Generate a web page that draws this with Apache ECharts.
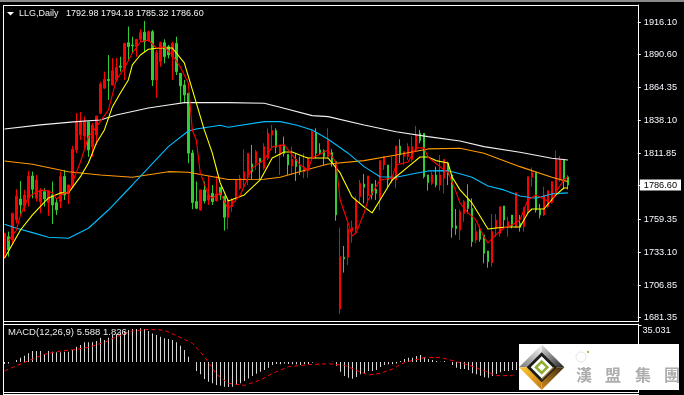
<!DOCTYPE html>
<html><head><meta charset="utf-8">
<style>html,body{margin:0;padding:0;background:#000}#c{width:684px;height:395px}</style>
<script src="https://cdn.jsdelivr.net/npm/echarts@6/dist/echarts.min.js"></script></head>
<body><div id="c"></div>
<script>
// [open, close, low, high]
const ohlc = [
[1732.3,1748.2,1728.3,1748.2],[1745.5,1734.9,1729.6,1749.5],[1742.9,1764.1,1738.9,1764.1],[1758.8,1777.9,1756.1,1783.2],
[1775.5,1770.7,1762.8,1789.8],[1769.9,1778.7,1765.4,1782.7],[1776.0,1793.8,1769.4,1797.8],[1793.8,1783.2,1776.0,1797.3],
[1776.0,1790.6,1773.4,1794.6],[1773.4,1782.7,1764.1,1784.0],[1781.3,1775.5,1769.4,1784.0],[1772.6,1782.1,1762.0,1782.1],
[1778.7,1770.7,1755.6,1789.3],[1772.6,1766.8,1762.8,1776.0],[1773.4,1793.3,1768.1,1797.3],[1793.3,1778.7,1774.7,1798.6],
[1780.0,1786.6,1771.5,1786.6],[1786.6,1815.0,1784.0,1817.7],[1814.5,1836.8,1812.0,1843.9],[1826.4,1836.8,1822.4,1844.7],
[1825.6,1836.8,1816.0,1841.0],[1836.8,1814.5,1809.0,1836.8],[1817.1,1834.4,1809.0,1836.0],[1826.4,1841.5,1818.5,1841.5],
[1843.7,1867.0,1843.0,1868.8],[1863.6,1870.7,1863.0,1876.8],[1870.7,1869.6,1854.2,1890.0],[1866.2,1877.6,1866.0,1887.4],
[1870.2,1880.0,1868.6,1887.7],[1881.3,1880.3,1876.8,1888.7],[1879.5,1899.3,1870.2,1899.3],[1899.8,1896.7,1886.1,1912.6],
[1898.0,1897.2,1891.4,1904.6],[1896.7,1902.5,1888.7,1902.5],[1902.5,1907.8,1900.6,1910.5],[1908.1,1900.6,1892.7,1917.1],
[1901.4,1908.6,1900.6,1909.4],[1908.6,1870.2,1865.4,1910.0],[1870.2,1891.9,1856.1,1894.0],[1884.7,1899.8,1880.7,1900.6],
[1899.8,1888.7,1883.4,1902.5],[1896.7,1890.1,1887.4,1898.0],[1888.7,1899.3,1870.2,1900.6],[1899.3,1876.8,1874.1,1904.6],
[1875.5,1865.4,1852.1,1875.5],[1866.2,1858.2,1851.6,1870.2],[1859.6,1811.9,1803.9,1859.8],[1812.1,1772.6,1767.3,1814.5],
[1773.4,1768.1,1767.3,1789.3],[1766.8,1782.7,1766.2,1782.7],[1782.7,1773.9,1772.0,1789.3],[1774.7,1778.7,1770.7,1793.8],
[1780.0,1773.4,1770.7,1786.6],[1774.2,1779.5,1773.4,1793.8],[1784.8,1778.7,1774.7,1784.8],[1777.4,1760.9,1750.3,1778.2],
[1760.9,1774.7,1751.4,1774.7],[1769.4,1775.2,1765.4,1776.0],[1777.4,1790.6,1773.4,1790.6],[1784.0,1791.9,1782.7,1794.6],
[1790.6,1797.2,1784.0,1815.0],[1794.6,1811.8,1786.6,1811.8],[1803.3,1797.2,1791.1,1818.5],[1803.9,1813.1,1798.6,1814.5],
[1807.8,1805.2,1790.6,1807.8],[1799.9,1817.1,1798.6,1819.8],[1807.8,1827.7,1806.5,1831.7],[1826.4,1829.9,1815.8,1834.4],
[1829.9,1816.6,1811.8,1831.7],[1810.5,1818.5,1794.6,1818.5],[1818.5,1811.8,1809.2,1825.1],[1811.0,1802.5,1794.6,1811.0],
[1801.7,1807.0,1794.6,1817.1],[1807.0,1801.2,1789.8,1811.8],[1801.2,1797.2,1794.6,1809.2],[1797.2,1799.9,1791.9,1811.8],
[1798.0,1807.8,1792.5,1807.8],[1807.8,1829.0,1806.5,1830.4],[1828.5,1811.8,1807.8,1831.7],[1814.5,1812.4,1810.5,1819.8],
[1813.9,1809.2,1802.5,1815.0],[1809.2,1823.0,1807.8,1831.7],[1812.4,1803.9,1801.2,1815.0],[1805.2,1762.8,1758.2,1805.2],
[1688.0,1729.6,1684.0,1752.7],[1729.1,1727.8,1716.9,1738.1],[1729.1,1751.6,1723.0,1756.1],[1750.0,1752.7,1740.8,1758.3],
[1751.6,1774.7,1748.2,1777.4],[1777.4,1787.9,1772.0,1790.6],[1787.4,1784.8,1772.0,1795.4],[1777.9,1793.8,1772.0,1793.8],
[1787.4,1778.7,1775.2,1787.4],[1783.2,1780.0,1774.7,1790.6],[1776.0,1806.0,1766.7,1806.0],[1802.5,1809.2,1798.6,1809.2],
[1802.5,1790.6,1784.0,1802.5],[1790.1,1793.3,1788.0,1809.2],[1790.6,1817.6,1784.0,1817.6],[1817.6,1810.5,1803.9,1823.0],
[1809.2,1813.1,1802.5,1813.1],[1809.2,1817.1,1806.5,1819.8],[1807.0,1817.1,1805.2,1825.1],[1814.5,1826.4,1813.1,1833.6],
[1827.7,1821.9,1819.8,1830.4],[1827.7,1793.3,1791.9,1827.7],[1794.6,1788.5,1782.1,1794.6],[1788.0,1794.6,1786.6,1797.2],
[1794.6,1786.6,1784.8,1801.2],[1786.6,1794.6,1782.1,1810.5],[1791.9,1807.0,1780.0,1807.0],[1803.9,1794.6,1786.6,1805.2],
[1794.6,1752.7,1744.7,1794.6],[1754.0,1751.9,1746.9,1767.5],[1750.8,1765.4,1742.8,1767.2],[1764.0,1773.3,1757.4,1774.6],
[1774.6,1768.0,1764.0,1787.1],[1768.0,1741.5,1737.5,1776.0],[1742.8,1749.5,1740.2,1756.1],[1750.8,1743.4,1741.5,1754.0],
[1746.8,1732.2,1724.3,1746.8],[1734.1,1725.6,1720.8,1734.1],[1724.8,1749.5,1721.6,1763.5],[1752.1,1758.7,1745.5,1763.5],
[1748.1,1769.3,1745.5,1769.3],[1769.9,1758.7,1752.1,1769.9],[1753.4,1757.4,1745.5,1761.4],[1762.7,1754.0,1752.1,1762.7],
[1753.4,1780.5,1752.1,1780.5],[1756.1,1752.9,1749.5,1762.7],[1753.4,1768.8,1749.5,1768.8],[1765.4,1793.2,1764.0,1793.2],
[1792.7,1796.4,1785.3,1800.6],[1796.4,1766.7,1764.6,1796.4],[1767.2,1762.7,1760.1,1771.5],[1762.7,1778.6,1761.9,1785.3],
[1769.3,1782.1,1768.0,1782.1],[1774.6,1789.2,1772.0,1789.2],[1780.5,1807.0,1778.6,1813.9],[1790.6,1807.0,1789.2,1809.7],
[1807.0,1791.9,1783.9,1807.0],[1792.98,1786.6,1783.0,1794.18]];

const maWhite = [[0,1831.2],[9,1834.4],[18,1837],[24,1838.3],[28,1842.3],[36,1847.9],[41,1850.3],[45,1852.1],[56,1852.1],[65,1851.6],[69,1848.4],[77,1841.8],[81,1841],[90,1834.4],[98,1829],[106,1825.1],[114,1821.6],[120,1817.1],[129,1812.6],[137,1807.9],[141,1806.5]];
const maOrange = [[0,1805.7],[7,1803.1],[16,1797.2],[24,1794.6],[32,1792.8],[41,1797.2],[46,1796.7],[56,1791],[65,1791.2],[69,1792.8],[77,1799.9],[81,1803.3],[90,1806],[98,1810.5],[106,1815.3],[114,1815.8],[120,1811.9],[129,1801.2],[137,1792.8],[141,1789.3]];
const maBlue = [[0,1755.4],[3,1752.2],[7,1748.7],[11,1745],[16,1744.2],[21,1752.2],[26,1766.7],[32,1786.6],[41,1817.1],[46,1829.6],[48,1831.2],[54,1834.1],[56,1832.5],[65,1837],[69,1837],[73,1834.4],[77,1830.4],[81,1823],[86,1811.9],[90,1801.2],[94,1793.2],[98,1792.8],[102,1795.4],[106,1797.8],[111,1798],[114,1795.6],[117,1792.8],[121,1785.8],[125,1782.7],[129,1777.9],[133,1776],[137,1779.5],[141,1780.3]];
const maYellow = [[0,1728.3],[4,1750.8],[7,1762.8],[11,1776.3],[14,1780.3],[16,1780.3],[19,1793.2],[21,1804.1],[23,1820],[25,1830.4],[27,1848.7],[29,1859.8],[31,1870.2],[32,1882.1],[34,1890],[36,1894.6],[39,1895.6],[42,1895.6],[45,1883.7],[48,1851.9],[50,1830.4],[52,1812.1],[54,1788.2],[56,1773.9],[60,1778.7],[64,1790.6],[67,1808.1],[70,1812.9],[72,1812.9],[75,1809.1],[76,1808.1],[81,1808.1],[84,1796.2],[87,1777.1],[90,1769.1],[92,1764.4],[94,1774.7],[97,1790.6],[101,1801],[104,1808.9],[106,1808.9],[108,1806],[111,1804.1],[112,1793.2],[114,1782.7],[117,1772.3],[121,1751.6],[123,1752.4],[126,1753.2],[129,1753.2],[131,1764.4],[132,1767.5],[135,1767.5],[138,1778.7],[140,1784.2],[141,1784.2]];
const maRed = [[1,1742.3],[3,1750.8],[4,1762.8],[6,1777.1],[8,1781.1],[10,1782.7],[12,1780.5],[13,1775.5],[15,1780.3],[16,1780.3],[19,1804.9],[21,1824.8],[23,1832.8],[26,1846.3],[28,1870.2],[30,1879.7],[32,1891.6],[34,1900.4],[36,1902],[38,1895.6],[40,1896.4],[42,1890],[44,1880.5],[46,1867.8],[47,1830.4],[48,1822.4],[49,1796.2],[51,1778.7],[52,1776.3],[54,1780.3],[56,1767.5],[59,1778.7],[62,1800.2],[65,1806.5],[67,1816.9],[70,1818.5],[72,1810.5],[74,1802.5],[76,1798.6],[77,1808.1],[80,1812.9],[81,1814.5],[83,1804.1],[84,1774.7],[86,1756.4],[87,1746.1],[88,1748.4],[90,1764.4],[91,1774.7],[92,1780.3],[94,1790.6],[97,1792.2],[98,1802.5],[101,1804.9],[103,1816.1],[105,1816.1],[106,1808.9],[110,1798.6],[111,1797],[113,1781.1],[114,1772.3],[116,1764.4],[118,1758.8],[120,1745.3],[121,1740.5],[123,1746.9],[125,1752.4],[127,1754.8],[129,1758.8],[131,1774.7],[133,1778.7],[137,1772.3],[138,1781.1],[140,1790.6],[141,1793]];

// MACD histogram, readable until the logo hides it
const macdHist = [-2,-1.5,0,1.9,4.1,6,8.2,10.4,10.4,10.4,7.3,10.4,9.8,9.2,9.2,9.8,9.8,11.4,14.5,16.1,18.6,18.6,18.6,19.9,23,20.8,23,25.6,26.2,28.1,29.4,30.3,31.3,31.3,31.9,31.3,29.4,27.1,25.6,24,22.4,21.8,20.8,18.6,15.5,11.4,5.1,0,
-8.5,-11.7,-16.1,-18.6,-20.2,-21.8,-22.4,-23.4,-23.7,-23.4,-21.8,-20.2,-18,-15.5,-13.3,-11,-9.2,-7.6,-5.4,-2.8,-1.9,-2.2,-1.3,-1.9,-2.2,-2.2,-2.8,-2.2,-2.2,-0.6,0,0,0,0,0.3,-3.5,-9.2,-13.3,-14.8,-15.8,-14.2,-11.7,-10.7,-8.5,-8.5,-7.6,-4.7,-2.8,-2.2,-2.2,-1.3,0.9,2.8,4.1,4.1,5.7,6.6,4.4,2.8,1.9,0.9,0.3,0.9,0,-2.8,-5.4,-6.6,-6.6,-7.6,-10.7,-11.7,-12.9,-14.5,-14.8,-13.3,-11.4,-9.8,-8.5,-8.5,-7.6,-7.6];
const macdSignal = [[0,-8.5],[3,-3.5],[6,1.3],[10,7.3],[14,10.4],[18,12],[21,13.9],[25,18.6],[28,24],[32,29.4],[36,30.9],[40,30],[43,24.9],[47,17.7],[50,5.1],[53,-11.7],[56,-20.2],[60,-22.1],[64,-17],[67,-10.7],[71,-4.4],[76,-2.5],[81,-1.6],[85,-3.2],[88,-7.9],[91,-12.3],[94,-10.7],[97,-6.6],[100,-0.3],[105,4.1],[109,4.4],[113,0.3],[116,-2.8],[121,-9.8],[123,-12.9],[127,-12.9],[128,-10.7]];

const priceTicks = [1916.10,1890.60,1864.35,1838.10,1811.85,1786.60,1759.35,1733.10,1706.85,1681.35];
const priceLabels = [1916.10,1890.60,1864.35,1838.10,1811.85,1759.35,1733.10,1706.85,1681.35];
const lastPrice = 1786.60;
const macdTop = 35.031;
const headerSymbol = 'LLG,Daily';
const headerValues = '1792.98 1794.18 1785.32 1786.60';
const macdTitle = 'MACD(12,26,9) 5.588 1.826';
const logoChars = ['漢','盟','集','團'];

const categories = Array.from({length:159},(_,i)=>String(i));
const FONT = 'Liberation Sans';
const C = 541.7, M = 367.3;
const dia = (r)=>[[C,M-r],[C+r,M],[C,M+r],[C-r,M]];
const face = (r,a,b)=>{const p=dia(r);return [[C,M],p[a],p[b]];};
const grad = (x,y,x2,y2,c0,c1)=>({type:'linear',x,y,x2,y2,colorStops:[{offset:0,color:c0},{offset:1,color:c1}]});
const poly = (points,fill,extra)=>Object.assign({type:'polygon',shape:{points},style:{fill}},extra||{});
const hline=(y,x0,x1)=>({type:'rect',shape:{x:x0,y,width:x1-x0,height:1},style:{fill:'#fff'},z:50});
const vline=(x,y0,y1)=>({type:'rect',shape:{x,y:y0,width:1,height:y1-y0},style:{fill:'#fff'},z:50});
const txt=(x,y,t,fill,size,o)=>({type:'text',x,y,style:Object.assign({text:t,fill,font:(size||9)+'px "'+FONT+'"',textVerticalAlign:'middle'},o||{}),z:60});

const graphic = [
  {type:'rect',shape:{x:0,y:0,width:684,height:2},style:{fill:'#8a8a8a'},z:50},
  hline(5,3,639), vline(3,5,395), hline(321,3,639), hline(324,3,639), hline(392,3,639), hline(394,3,639),
  poly([[7,12],[14,12],[10.5,15.5]],'#fff',{z:60}),
  txt(19,13.5,headerSymbol,'#f2f2f2'), txt(66,13.5,headerValues,'#f2f2f2'),
  txt(8,332,macdTitle,'#e8e8e8',9.5),
  {type:'rect',shape:{x:519,y:344,width:160,height:46},style:{fill:'#fff'},z:70},
  poly(face(22.7,3,0),grad(0,1,1,0,'#777','#f8f8f8'),{z:71}),
  poly(face(22.7,0,1),grad(0,0,1,1,'#ddd','#222'),{z:71}),
  poly(face(22.7,3,2),grad(0,0,1,1,'#ffcc33','#c47a10'),{z:71}),
  poly(face(22.7,1,2),grad(1,0,0,1,'#3a2a10','#d08a20'),{z:71}),
  poly(dia(15),'#1c1c1c',{z:72}),
  poly(face(13,2,1),'#9a7a3a',{z:73}),
  poly(dia(11),'#fff',{z:74}),
  poly(dia(7.5),'#8fad35',{z:75}),
  poly(dia(3.8),'#fff',{z:76}),
  {type:'circle',shape:{cx:581,cy:357,r:5},style:{fill:'none',stroke:'#e6e6e6',lineWidth:1},z:75},
  {type:'rect',shape:{x:587,y:351,width:2,height:2},style:{fill:'#9fc050'},z:75}
].concat(logoChars.map((c,i)=>({type:'text',x:[584,613,643,672][i],y:375,
  style:{text:c,fill:'#adadad',font:'bold 16px "Noto Sans CJK TC"',textAlign:'center',textVerticalAlign:'middle'},z:76})));

const line=(data,color,extra)=>Object.assign({type:'line',data,showSymbol:false,symbol:'none',connectNulls:true,smooth:false,
  lineStyle:{color,width:1.1},itemStyle:{color},silent:true,animation:false,z:5,clip:false},extra||{});

const chart = echarts.init(document.getElementById('c'),null,{renderer:'canvas'});
chart.setOption({
  backgroundColor:'#000',animation:false,
  grid:[{left:2.5,top:5,width:636,height:316},{left:2.5,top:324,width:636,height:68}],
  xAxis:[{type:'category',data:categories,gridIndex:0,show:false,boundaryGap:true},
         {type:'category',data:categories,gridIndex:1,show:false,boundaryGap:true}],
  yAxis:[
    {type:'value',gridIndex:0,position:'right',min:1678.4,max:1929.8,splitLine:{show:false},
     axisLine:{show:true,onZero:false,lineStyle:{color:'#fff'}},
     axisTick:{show:true,length:3,customValues:priceTicks,lineStyle:{color:'#fff'}},
     axisLabel:{customValues:priceLabels,formatter:v=>v.toFixed(2),color:'#f4f8ff',fontFamily:FONT,fontSize:9.2,margin:6}},
    {type:'value',gridIndex:0,position:'right',min:1678.4,max:1929.8,splitLine:{show:false},
     axisLine:{show:false},axisTick:{show:false},
     axisLabel:{customValues:[lastPrice],formatter:v=>v.toFixed(2),color:'#000',fontFamily:FONT,fontSize:9.2,margin:2,
       backgroundColor:'#fff',padding:[1,4,1,4]}},
    {type:'value',gridIndex:1,position:'right',min:-28.4,max:36,splitLine:{show:false},
     axisLine:{show:true,onZero:false,lineStyle:{color:'#fff'}},
     axisTick:{show:true,length:3,customValues:[macdTop],lineStyle:{color:'#fff'}},
     axisLabel:{customValues:[macdTop],formatter:v=>v.toFixed(3),color:'#f4f8ff',fontFamily:FONT,fontSize:9.2,margin:4,verticalAlign:'top',padding:[1,0,0,0]}}
  ],
  series:[
    {type:'candlestick',xAxisIndex:0,yAxisIndex:0,data:ohlc,barWidth:2,clip:false,silent:true,animation:false,z:3,
     itemStyle:{color:'#ff0000',color0:'#32cd32',borderColor:'#ff0000',borderColor0:'#32cd32',borderWidth:1}},
    line(maWhite,'#f0f0f5'),
    line(maOrange,'#ff9900'),
    line(maBlue,'#00bfff'),
    line(maYellow,'#ffff00'),
    line(maRed,'#ff0000'),
    {type:'bar',xAxisIndex:1,yAxisIndex:2,data:macdHist,barWidth:1,silent:true,animation:false,itemStyle:{color:'#d6d6d6'}},
    line(macdSignal,'#ff0000',{xAxisIndex:1,yAxisIndex:2,lineStyle:{color:'#ff0000',width:1,type:[4,3]}})
  ],
  graphic:{elements:graphic}
});
</script></body></html>
